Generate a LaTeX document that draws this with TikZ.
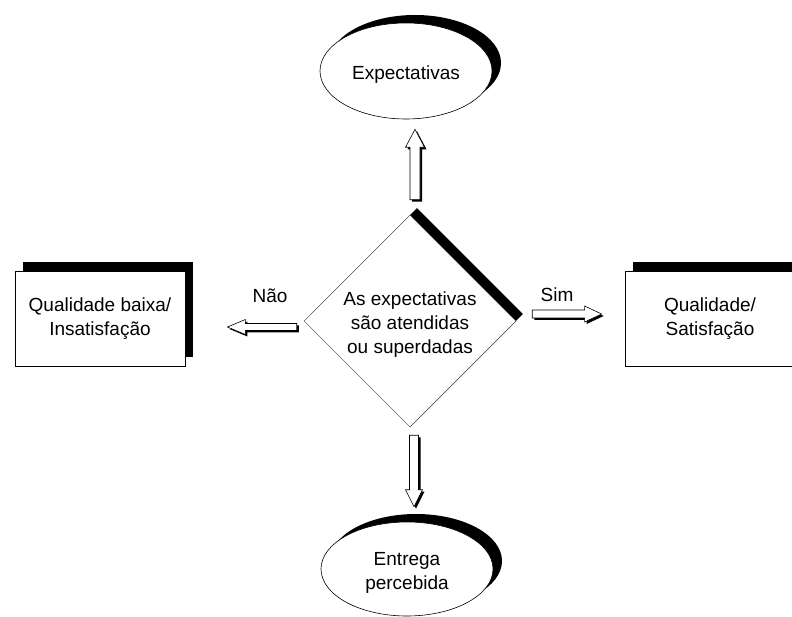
\documentclass[tikz,border=0pt]{standalone}
\usepackage{fontspec}
\setmainfont{Liberation Sans}
\usetikzlibrary{shapes.geometric,shadows,calc}

\tikzset{
  every node/.style={font=\fontsize{19}{24}\selectfont},
  solidshadow/.style 2 args={drop shadow={opacity=1,fill=black,shadow xshift=#1,shadow yshift=#2}},
  oval/.style={ellipse,draw,line width=.6pt,fill=white,minimum width=172pt,
    minimum height=96pt,inner sep=0pt,solidshadow={9pt}{8pt}},
  box/.style={rectangle,draw,line width=.8pt,fill=white,minimum width=170pt,
    minimum height=95pt,inner sep=0pt,align=center,solidshadow={8pt}{9pt}},
  decision/.style={diamond,draw=black!75,line width=.5pt,fill=white,aspect=1,
    minimum width=212pt,minimum height=212pt,inner sep=0pt,
    solidshadow={7pt}{7pt}},
  fat/.style={fill=white,draw=black,line width=.6pt,solidshadow={2pt}{-2pt}},
  lbl/.style={inner sep=0pt},
  inside/.style={inner sep=0pt,align=center}
}

% hollow block arrow: from, to, shaft half-width, head half-width, head length
\newcommand\fatarrow[5]{%
  \path[fat] ($(#1)!#3!90:(#2)$)
    -- ($(#2)!#5!(#1)!#3!-90:(#1)$)
    -- ($(#2)!#5!(#1)!#4!-90:(#1)$)
    -- (#2)
    -- ($(#2)!#5!(#1)!#4!90:(#1)$)
    -- ($(#2)!#5!(#1)!#3!90:(#1)$)
    -- ($(#1)!#3!-90:(#2)$) -- cycle;}

\begin{document}
\begin{tikzpicture}[x=1pt,y=-1pt]
  \useasboundingbox (0,0) rectangle (792,617);
  \clip (0,0) rectangle (792,617);

  % shapes
  \node[oval,label={[inside,yshift=-4pt]center:Expectativas}] (exp) at (406,71) {};
  \node[decision,label={[inside,yshift=-4pt]center:As expectativas\\são atendidas\\ou superdadas}] (dia) at (410,321) {};
  \node[box] (low) at (100,318.5) {Qualidade baixa/\\Insatisfação};
  \node[box] (high) at (710,318.5) {Qualidade/\\Satisfação};
  \node[oval,minimum height=94pt,label={[inside,yshift=-4pt]center:Entrega\\percebida}] (deliv) at (407,569) {};

  % arrow end points
  \coordinate (upS) at ($(dia.north)+(5,-15)$);
  \coordinate (upT) at ($(exp.south)+(9,10)$);
  \coordinate (dnS) at ($(dia.south)+(4,8)$);
  \coordinate (dnT) at ($(deliv.north)+(7,-15)$);
  \coordinate (ltS) at ($(dia.west)+(-7,6)$);
  \coordinate (ltT) at ($(low.east)+(42,8.5)$);
  \coordinate (rtS) at ($(dia.east)+(16,-7)$);
  \coordinate (rtT) at ($(high.west)+(-23,-4.5)$);

  % connectors
  \fatarrow{upS}{upT}{5pt}{9.5pt}{18pt}
  \fatarrow{dnS}{dnT}{4.5pt}{8.5pt}{17pt}
  \fatarrow{ltS}{ltT}{3.5pt}{7.5pt}{18pt}
  \fatarrow{rtS}{rtT}{4pt}{8pt}{17pt}

  % branch labels
  \node[lbl] (no) at (270,296) {Não};
  \node[lbl] (yes) at (557,295) {Sim};
\end{tikzpicture}
\end{document}
